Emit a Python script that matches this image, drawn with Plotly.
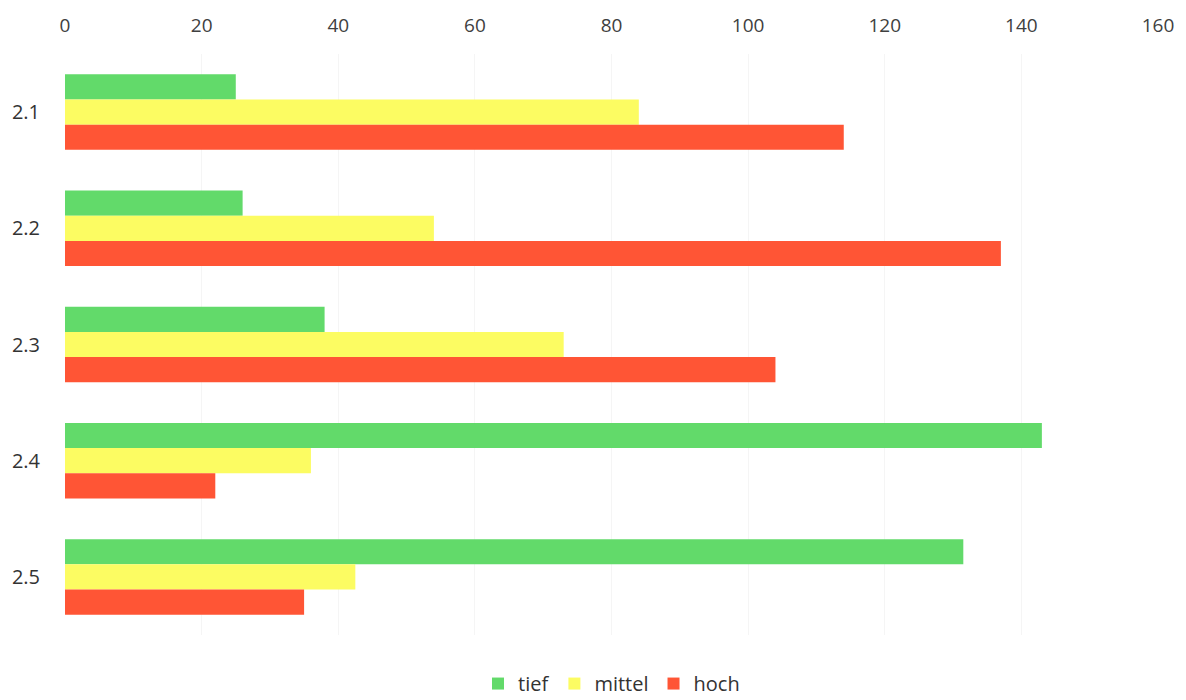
import plotly.graph_objects as go

categories = ["2.1", "2.2", "2.3", "2.4", "2.5"]
tief = [25, 26, 38, 143, 131.5]
mittel = [84, 54, 73, 36, 42.5]
hoch = [114, 137, 104, 22, 35]
tick_vals = [0, 20, 40, 60, 80, 100, 120, 140, 160]

series = [("tief", tief, "#62da6a"), ("mittel", mittel, "#fcfc62"), ("hoch", hoch, "#ff5535")]

fig = go.Figure()
for name, vals, col in series:
    fig.add_trace(go.Bar(y=categories, x=vals, name=name, orientation="h",
                         marker=dict(color=col, line=dict(width=0))))

fig.update_layout(
    width=1178, height=692,
    margin=dict(l=57, r=28, t=46, b=65, autoexpand=False),
    paper_bgcolor="white", plot_bgcolor="white",
    barmode="group", bargap=0.35, bargroupgap=0,
    font=dict(family="Open Sans, sans-serif", size=19, color="#404040"),
    legend=dict(orientation="h", x=0.5, xanchor="center", y=-0.05, yanchor="top",
                traceorder="normal", font=dict(size=20, color="#333333")),
    showlegend=True,
)
fig.update_xaxes(side="top", range=[0, 160], tickvals=tick_vals, showgrid=True,
                 gridcolor="#f5f5f5", zeroline=False, showline=False, ticks="",
                 tickfont=dict(size=19, color="#404040"), automargin=False,
                 ticklabelstandoff=17)
fig.update_yaxes(autorange="reversed", showgrid=False, zeroline=False, showline=False,
                 ticks="", ticklabelstandoff=24, automargin=False,
                 tickfont=dict(size=20, color="#333333"))

fig.write_html("out.html")
